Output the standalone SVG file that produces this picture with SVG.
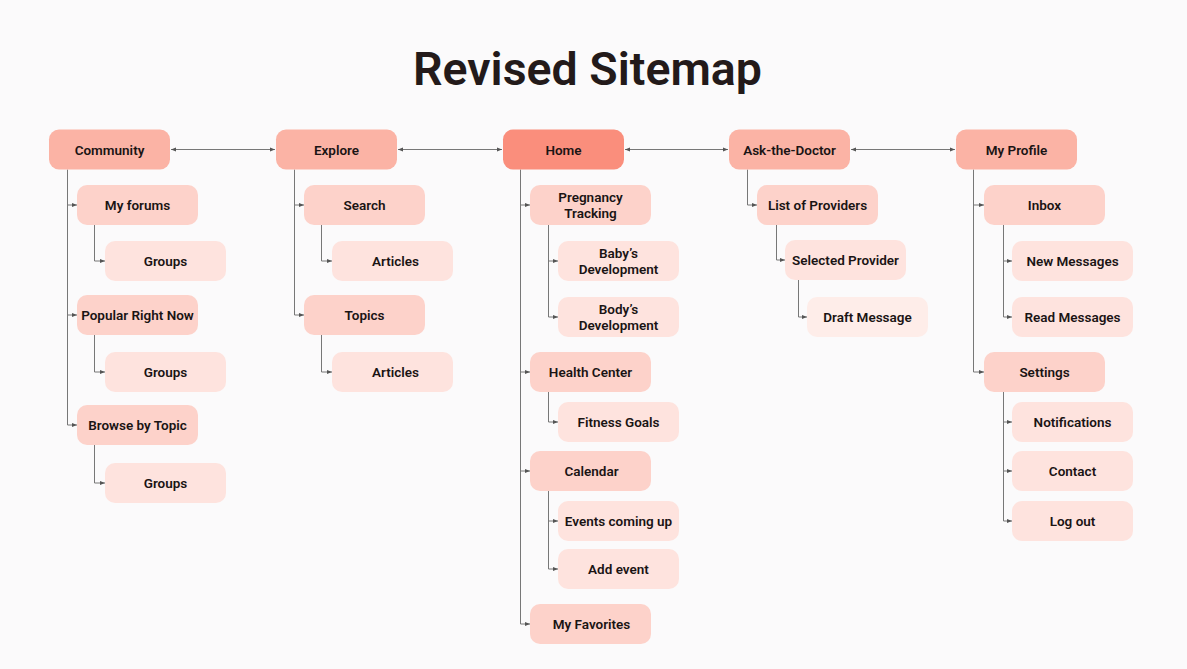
<svg xmlns="http://www.w3.org/2000/svg" width="1187" height="669" viewBox="0 0 1187 669">
<defs>
<marker id="ah" viewBox="0 0 5 5" refX="5" refY="2.5" markerWidth="5" markerHeight="5" markerUnits="userSpaceOnUse" orient="auto-start-reverse">
<path d="M0,0.5 L5,2.5 L0,4.5 Z" fill="#555"/>
</marker>
<style>
.l1 { fill: #FBB3A5; }
.home { fill: #FA8E7C; }
.l2 { fill: #FDD2CA; }
.l3 { fill: #FEE3DE; }
.l4 { fill: #FEEDE9; }
text { font-family: Roboto, "Liberation Sans", sans-serif; font-size: 13.5px; font-weight: 600; fill: #1a1414; text-anchor: middle; }
.title { font-size: 46.5px; font-weight: 600; fill: #231a1a; }
.c { fill: none; stroke: #777; stroke-width: 1; }
.a { fill: none; stroke: #777; stroke-width: 1; marker-end: url(#ah); }
.d { fill: none; stroke: #777; stroke-width: 1; marker-start: url(#ah); marker-end: url(#ah); }
</style>
</defs>
<rect width="1187" height="669" fill="#FBFAFB"/>
<text class="title" x="587.5" y="85">Revised Sitemap</text>

<g id="connectors">
<path class="d" d="M171,149.5 H275"/>
<path class="d" d="M398,149.5 H502"/>
<path class="d" d="M625,149.5 H728"/>
<path class="d" d="M851,149.5 H955"/>

<path class="c" d="M67.5,169.5 V425"/>
<path class="a" d="M67.5,205 H77"/>
<path class="a" d="M67.5,315 H77"/>
<path class="a" d="M67.5,425 H77"/>
<path class="a" d="M94.5,225 V261 H105"/>
<path class="a" d="M94.5,335 V372 H105"/>
<path class="a" d="M94.5,445 V483 H105"/>

<path class="c" d="M294.5,169.5 V315"/>
<path class="a" d="M294.5,205 H304"/>
<path class="a" d="M294.5,315 H304"/>
<path class="a" d="M321.5,225 V261 H332"/>
<path class="a" d="M321.5,335 V372 H332"/>

<path class="c" d="M520.5,169.5 V624"/>
<path class="a" d="M520.5,205 H530"/>
<path class="a" d="M520.5,372 H530"/>
<path class="a" d="M520.5,471 H530"/>
<path class="a" d="M520.5,624 H530"/>
<path class="c" d="M548.5,225 V317"/>
<path class="a" d="M548.5,261 H558"/>
<path class="a" d="M548.5,317 H558"/>
<path class="a" d="M548.5,392 V422 H558"/>
<path class="c" d="M548.5,491 V569"/>
<path class="a" d="M548.5,521 H558"/>
<path class="a" d="M548.5,569 H558"/>

<path class="a" d="M747.5,169.5 V205 H757"/>
<path class="a" d="M776.5,225 V260 H785"/>
<path class="a" d="M798.5,280 V317 H807"/>

<path class="c" d="M973.5,169.5 V372"/>
<path class="a" d="M973.5,205 H984"/>
<path class="a" d="M973.5,372 H984"/>
<path class="c" d="M1003.5,225 V317"/>
<path class="a" d="M1003.5,261 H1012"/>
<path class="a" d="M1003.5,317 H1012"/>
<path class="c" d="M1003.5,392 V521"/>
<path class="a" d="M1003.5,422 H1012"/>
<path class="a" d="M1003.5,471 H1012"/>
<path class="a" d="M1003.5,521 H1012"/>
</g>

<g id="community"><rect class="l1" x="49" y="129.5" width="121" height="40" rx="10"/><text x="109.5" y="154.5">Community</text></g>
<g id="explore"><rect class="l1" x="276" y="129.5" width="121" height="40" rx="10"/><text x="336.5" y="154.5">Explore</text></g>
<g id="home"><rect class="home" x="503" y="129.5" width="121" height="40" rx="10"/><text x="563.5" y="154.5">Home</text></g>
<g id="ask-the-doctor"><rect class="l1" x="729" y="129.5" width="121" height="40" rx="10"/><text x="789.5" y="154.5">Ask-the-Doctor</text></g>
<g id="my-profile"><rect class="l1" x="956" y="129.5" width="121" height="40" rx="10"/><text x="1016.5" y="154.5">My Profile</text></g>

<g id="my-forums"><rect class="l2" x="77" y="185" width="121" height="40" rx="10"/><text x="137.5" y="210">My forums</text></g>
<g id="groups-1"><rect class="l3" x="105" y="241" width="121" height="40" rx="10"/><text x="165.5" y="266">Groups</text></g>
<g id="popular-right-now"><rect class="l2" x="77" y="295" width="121" height="40" rx="10"/><text x="137.5" y="320">Popular Right Now</text></g>
<g id="groups-2"><rect class="l3" x="105" y="352" width="121" height="40" rx="10"/><text x="165.5" y="377">Groups</text></g>
<g id="browse-by-topic"><rect class="l2" x="77" y="405" width="121" height="40" rx="10"/><text x="137.5" y="430">Browse by Topic</text></g>
<g id="groups-3"><rect class="l3" x="105" y="463" width="121" height="40" rx="10"/><text x="165.5" y="488">Groups</text></g>

<g id="search"><rect class="l2" x="304" y="185" width="121" height="40" rx="10"/><text x="364.5" y="210">Search</text></g>
<g id="articles-1"><rect class="l3" x="332" y="241" width="121" height="40" rx="10"/><text x="395.5" y="266">Articles</text></g>
<g id="topics"><rect class="l2" x="304" y="295" width="121" height="40" rx="10"/><text x="364.5" y="320">Topics</text></g>
<g id="articles-2"><rect class="l3" x="332" y="352" width="121" height="40" rx="10"/><text x="395.5" y="377">Articles</text></g>

<g id="pregnancy-tracking"><rect class="l2" x="530" y="185" width="121" height="40" rx="10"/><text x="590.5" y="202">Pregnancy</text><text x="590.5" y="218">Tracking</text></g>
<g id="babys-development"><rect class="l3" x="558" y="241" width="121" height="40" rx="10"/><text x="618.5" y="258">Baby’s</text><text x="618.5" y="274">Development</text></g>
<g id="bodys-development"><rect class="l3" x="558" y="297" width="121" height="40" rx="10"/><text x="618.5" y="314">Body’s</text><text x="618.5" y="330">Development</text></g>
<g id="health-center"><rect class="l2" x="530" y="352" width="121" height="40" rx="10"/><text x="590.5" y="377">Health Center</text></g>
<g id="fitness-goals"><rect class="l3" x="558" y="402" width="121" height="40" rx="10"/><text x="618.5" y="427">Fitness Goals</text></g>
<g id="calendar"><rect class="l2" x="530" y="451" width="121" height="40" rx="10"/><text x="591.5" y="476">Calendar</text></g>
<g id="events-coming-up"><rect class="l3" x="558" y="501" width="121" height="40" rx="10"/><text x="618.5" y="526">Events coming up</text></g>
<g id="add-event"><rect class="l3" x="558" y="549" width="121" height="40" rx="10"/><text x="618.5" y="574">Add event</text></g>
<g id="my-favorites"><rect class="l2" x="530" y="604" width="121" height="40" rx="10"/><text x="591.5" y="629">My Favorites</text></g>

<g id="list-of-providers"><rect class="l2" x="757" y="185" width="121" height="40" rx="10"/><text x="817.5" y="210">List of Providers</text></g>
<g id="selected-provider"><rect class="l3" x="785" y="240" width="121" height="40" rx="10"/><text x="845.5" y="265">Selected Provider</text></g>
<g id="draft-message"><rect class="l4" x="807" y="297" width="121" height="40" rx="10"/><text x="867.5" y="322">Draft Message</text></g>

<g id="inbox"><rect class="l2" x="984" y="185" width="121" height="40" rx="10"/><text x="1044.5" y="210">Inbox</text></g>
<g id="new-messages"><rect class="l3" x="1012" y="241" width="121" height="40" rx="10"/><text x="1072.5" y="266">New Messages</text></g>
<g id="read-messages"><rect class="l3" x="1012" y="297" width="121" height="40" rx="10"/><text x="1072.5" y="322">Read Messages</text></g>
<g id="settings"><rect class="l2" x="984" y="352" width="121" height="40" rx="10"/><text x="1044.5" y="377">Settings</text></g>
<g id="notifications"><rect class="l3" x="1012" y="402" width="121" height="40" rx="10"/><text x="1072.5" y="427">Notifications</text></g>
<g id="contact"><rect class="l3" x="1012" y="451" width="121" height="40" rx="10"/><text x="1072.5" y="476">Contact</text></g>
<g id="log-out"><rect class="l3" x="1012" y="501" width="121" height="40" rx="10"/><text x="1072.5" y="526">Log out</text></g>
</svg>
